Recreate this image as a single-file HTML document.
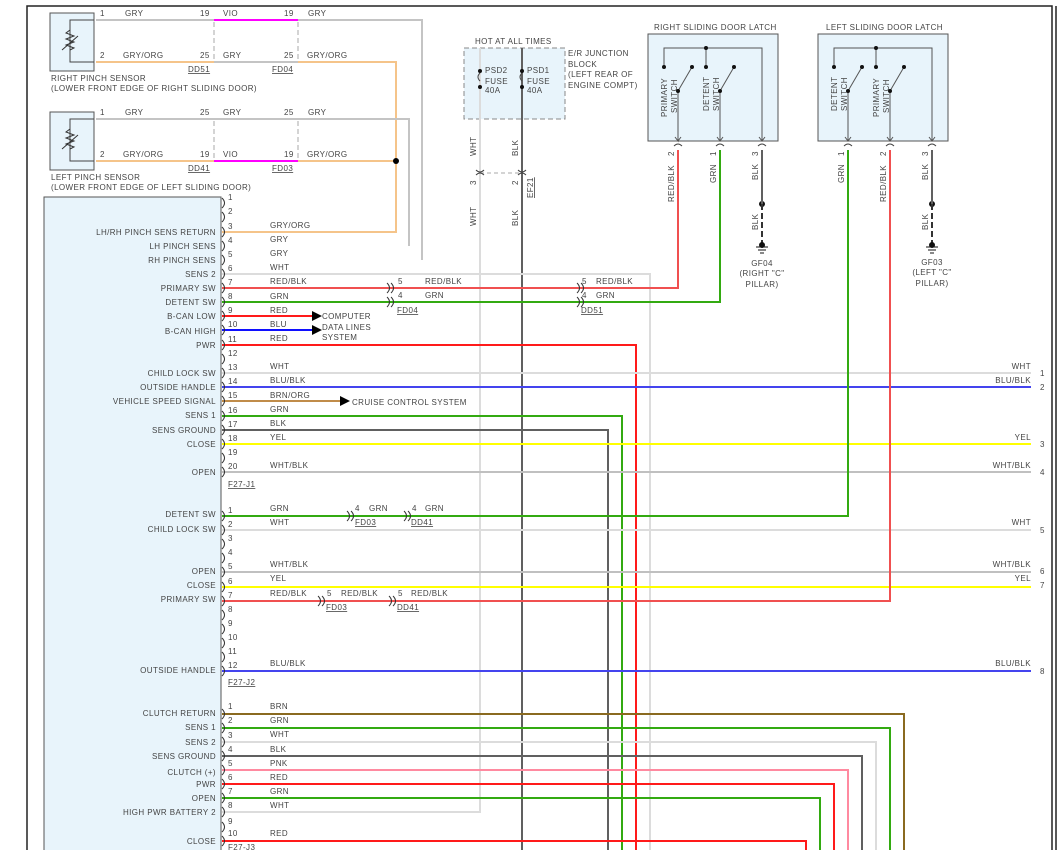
<!DOCTYPE html>
<html><head><meta charset="utf-8"><style>
body{margin:0;background:#fff}
svg{display:block;font-family:"Liberation Sans",sans-serif;font-size:8px;fill:#444;letter-spacing:.4px}
.w{fill:none;stroke-width:2}
</style></head><body>
<svg width="1058" height="850" viewBox="0 0 1058 850" xmlns="http://www.w3.org/2000/svg">
<defs><path id="c" d="M0 -5 Q5 0 0 5" fill="none" stroke="#333" stroke-width="1"/>
<path id="d" d="M-5 -5 Q0 0 -5 5 M-1 -5 Q4 0 -1 5" fill="none" stroke="#333" stroke-width="1"/></defs>
<!-- frame -->
<path d="M27 850 V6 H1052 V850 M1056 6 V850" fill="none" stroke="#222" stroke-width="1.5"/>
<!-- pinch sensors -->
<rect x="50" y="13" width="44" height="58" fill="#e8f4fb" stroke="#555"/>
<rect x="50" y="112" width="44" height="58" fill="#e8f4fb" stroke="#555"/>
<path d="M94 20 H70 V62 H94 M94 119 H70 V161 H94" fill="none" stroke="#444"/>
<path d="M70 30 l-4 3 8 3 -8 3 8 3 -8 3 8 3 -4 2 M62 50 l16 -14 M70 129 l-4 3 8 3 -8 3 8 3 -8 3 8 3 -4 2 M62 149 l16 -14" fill="none" stroke="#333"/>
<g class="w">
<path d="M96 20 H214 M298 20 H422 V260" stroke="#c4c4c4"/>
<path d="M214 20 H298 M214 161 H298" stroke="#ff00ff"/>
<path d="M96 62 H214 M298 62 H396 V232 H222" stroke="#f5c48a"/>
<path d="M214 62 H298 M96 119 H214 M214 119 H298 M298 119 H409 V246" stroke="#c4c4c4"/>
<path d="M96 161 H214 M298 161 H396" stroke="#f5c48a"/>
</g>
<path d="M214 22 V60 M298 22 V60 M214 121 V159 M298 121 V159" stroke="#aaa" stroke-dasharray="5 3"/>
<circle cx="396" cy="161" r="3" fill="#000"/>
<text x="100" y="16">1</text><text x="125" y="16">GRY</text><text x="200" y="16">19</text><text x="223" y="16">VIO</text><text x="284" y="16">19</text><text x="308" y="16">GRY</text>
<text x="100" y="58">2</text><text x="123" y="58">GRY/ORG</text><text x="200" y="58">25</text><text x="223" y="58">GRY</text><text x="284" y="58">25</text><text x="307" y="58">GRY/ORG</text>
<text x="188" y="72" text-decoration="underline">DD51</text><text x="272" y="72" text-decoration="underline">FD04</text>
<text x="51" y="81">RIGHT PINCH SENSOR</text><text x="51" y="91">(LOWER FRONT EDGE OF RIGHT SLIDING DOOR)</text>
<text x="100" y="115">1</text><text x="125" y="115">GRY</text><text x="200" y="115">25</text><text x="223" y="115">GRY</text><text x="284" y="115">25</text><text x="308" y="115">GRY</text>
<text x="100" y="157">2</text><text x="123" y="157">GRY/ORG</text><text x="200" y="157">19</text><text x="223" y="157">VIO</text><text x="284" y="157">19</text><text x="307" y="157">GRY/ORG</text>
<text x="188" y="171" text-decoration="underline">DD41</text><text x="272" y="171" text-decoration="underline">FD03</text>
<text x="51" y="180">LEFT PINCH SENSOR</text><text x="51" y="190">(LOWER FRONT EDGE OF LEFT SLIDING DOOR)</text>
<!-- fuse block -->
<rect x="464" y="48" width="101" height="71" fill="#e8f4fb" stroke="#888" stroke-dasharray="5 3"/>
<text x="475" y="44">HOT AT ALL TIMES</text>
<text x="568" y="56">E/R JUNCTION</text><text x="568" y="67">BLOCK</text><text x="568" y="77">(LEFT REAR OF</text><text x="568" y="88">ENGINE COMPT)</text>
<text x="485" y="73">PSD2</text><text x="485" y="84">FUSE</text><text x="485" y="93">40A</text>
<text x="527" y="73">PSD1</text><text x="527" y="84">FUSE</text><text x="527" y="93">40A</text>
<!-- big verticals -->
<g class="w">
<path d="M480 48 V812 H222" stroke="#dcdcdc"/>
<path d="M522 48 V850" stroke="#606060"/>
<path d="M650 850 V274 H222" stroke="#dcdcdc"/>
<path d="M636 850 V345 H222" stroke="#ff1a1a"/>
<path d="M622 850 V416 H222" stroke="#33aa11"/>
<path d="M608 850 V430 H222" stroke="#606060"/>
</g>
<path d="M480 73 q-4 4 0 8 M522 73 q-4 4 0 8" stroke="#444" fill="none"/>
<circle cx="480" cy="71" r="2" fill="#111"/><circle cx="480" cy="87" r="2" fill="#111"/>
<circle cx="522" cy="71" r="2" fill="#111"/><circle cx="522" cy="87" r="2" fill="#111"/>
<path d="M480 173 H522" stroke="#aaa" stroke-dasharray="4 3"/>
<path d="M476 170 q4 4 8 0 M476 175 q4 -4 8 0 M518 170 q4 4 8 0 M518 175 q4 -4 8 0" stroke="#444" fill="none"/>
<g transform="rotate(-90)">
<text x="-156" y="476">WHT</text><text x="-156" y="518">BLK</text>
<text x="-185" y="476">3</text><text x="-185" y="518">2</text>
<text x="-198" y="533" text-decoration="underline">EF21</text>
<text x="-226" y="476">WHT</text><text x="-226" y="518">BLK</text>
</g>
<!-- latches -->
<text x="654" y="30">RIGHT SLIDING DOOR LATCH</text>
<text x="826" y="30">LEFT SLIDING DOOR LATCH</text>
<rect x="648" y="34" width="130" height="107" fill="#e8f4fb" stroke="#555"/>
<rect x="818" y="34" width="130" height="107" fill="#e8f4fb" stroke="#555"/>
<g stroke="#555" fill="none">
<path d="M664 67 V48 H762 V141 M706 48 V67 M678 91 V141 L675 137 M678 141 L681 137 M720 91 V141 M717 137 L720 141 723 137 M759 137 L762 141 765 137 M678 91 L692 67 M720 91 L734 67"/>
<path d="M834 67 V48 H932 V141 M876 48 V67 M848 91 V141 M890 91 V141 M848 91 L862 67 M890 91 L904 67 M845 137 L848 141 851 137 M887 137 L890 141 893 137 M929 137 L932 141 935 137"/>
</g>
<g fill="#111"><circle cx="706" cy="48" r="2"/><circle cx="664" cy="67" r="2"/><circle cx="706" cy="67" r="2"/><circle cx="692" cy="67" r="2"/><circle cx="734" cy="67" r="2"/><circle cx="678" cy="91" r="2"/><circle cx="720" cy="91" r="2"/>
<circle cx="876" cy="48" r="2"/><circle cx="834" cy="67" r="2"/><circle cx="876" cy="67" r="2"/><circle cx="862" cy="67" r="2"/><circle cx="904" cy="67" r="2"/><circle cx="848" cy="91" r="2"/><circle cx="890" cy="91" r="2"/>
<circle cx="762" cy="204" r="3"/><circle cx="932" cy="204" r="3"/></g>
<path d="M674 146 q4 -4 8 0 M716 146 q4 -4 8 0 M758 146 q4 -4 8 0 M844 146 q4 -4 8 0 M886 146 q4 -4 8 0 M928 146 q4 -4 8 0" stroke="#444" fill="none"/>
<g transform="rotate(-90)">
<text x="-117" y="667">PRIMARY</text><text x="-113" y="677">SWITCH</text>
<text x="-111" y="709">DETENT</text><text x="-111" y="719">SWITCH</text>
<text x="-111" y="837">DETENT</text><text x="-111" y="847">SWITCH</text>
<text x="-117" y="879">PRIMARY</text><text x="-113" y="889">SWITCH</text>
<text x="-156" y="674">2</text><text x="-156" y="716">1</text><text x="-156" y="758">3</text>
<text x="-156" y="844">1</text><text x="-156" y="886">2</text><text x="-156" y="928">3</text>
<text x="-202" y="674">RED/BLK</text><text x="-183" y="716">GRN</text><text x="-180" y="758">BLK</text>
<text x="-183" y="844">GRN</text><text x="-202" y="886">RED/BLK</text><text x="-180" y="928">BLK</text>
<text x="-230" y="758">BLK</text><text x="-230" y="928">BLK</text>
</g>
<path d="M762 150 V204 M932 150 V204" stroke="#606060" stroke-width="2"/>
<path d="M762 204 V246 M932 204 V246" stroke="#333" stroke-width="2" stroke-dasharray="6 3"/>
<path d="M756 247 H768 M758 250 H766 M760 253 H764 M926 247 H938 M928 250 H936 M930 253 H934" stroke="#111"/>
<circle cx="762" cy="245" r="3" fill="#111"/><circle cx="932" cy="245" r="3" fill="#111"/>
<g text-anchor="middle"><text x="762" y="266">GF04</text><text x="762" y="276">(RIGHT "C"</text><text x="762" y="287">PILLAR)</text>
<text x="932" y="265">GF03</text><text x="932" y="275">(LEFT "C"</text><text x="932" y="286">PILLAR)</text></g>
<!-- module -->
<rect x="44" y="197" width="177" height="660" fill="#e8f4fb" stroke="#555"/>
<g class="w">
<path d="M222 288 H678 V150" stroke="#f05050"/>
<path d="M222 302 H720 V150" stroke="#33aa11"/>
<path d="M222 316 H312" stroke="#ff1a1a"/>
<path d="M222 330 H312" stroke="#1010ff"/>
<path d="M222 373 H1031" stroke="#dcdcdc"/>
<path d="M222 387 H1031" stroke="#4444ee"/>
<path d="M222 401 H340" stroke="#c08c4a"/>
<path d="M222 444 H1031" stroke="#ffff00"/>
<path d="M222 472 H1031" stroke="#c0c0c0"/>
<path d="M222 516 H848 V150" stroke="#33aa11"/>
<path d="M222 530 H1031" stroke="#dcdcdc"/>
<path d="M222 572 H1031" stroke="#c0c0c0"/>
<path d="M222 587 H1031" stroke="#ffff00"/>
<path d="M222 601 H890 V150" stroke="#f05050"/>
<path d="M222 671 H1031" stroke="#4444ee"/>
<path d="M222 714 H904 V850" stroke="#8a6a20"/>
<path d="M222 728 H890 V850" stroke="#33aa11"/>
<path d="M222 742 H876 V850" stroke="#dcdcdc"/>
<path d="M222 756 H862 V850" stroke="#606060"/>
<path d="M222 770 H848 V850" stroke="#ff8aa0"/>
<path d="M222 784 H834 V850" stroke="#ff1a1a"/>
<path d="M222 798 H820 V850" stroke="#33aa11"/>
<path d="M222 841 H806 V850" stroke="#ff1a1a"/>
</g>
<path d="M312 311 L322 316 312 321Z M312 325 L322 330 312 335Z M340 396 L350 401 340 406Z" fill="#000"/>
<text x="322" y="319">COMPUTER</text><text x="322" y="330">DATA LINES</text><text x="322" y="340">SYSTEM</text>
<text x="352" y="405">CRUISE CONTROL SYSTEM</text>
<!-- inline connectors -->
<use href="#d" x="392" y="288"/><use href="#d" x="392" y="302"/><use href="#d" x="582" y="288"/><use href="#d" x="582" y="302"/>
<use href="#d" x="352" y="516"/><use href="#d" x="409" y="516"/><use href="#d" x="323" y="601"/><use href="#d" x="394" y="601"/>
<text x="398" y="284">5</text><text x="425" y="284">RED/BLK</text><text x="398" y="298">4</text><text x="425" y="298">GRN</text><text x="397" y="313" text-decoration="underline">FD04</text>
<text x="582" y="284">5</text><text x="596" y="284">RED/BLK</text><text x="582" y="298">4</text><text x="596" y="298">GRN</text><text x="581" y="313" text-decoration="underline">DD51</text>
<text x="355" y="511">4</text><text x="369" y="511">GRN</text><text x="355" y="525" text-decoration="underline">FD03</text>
<text x="412" y="511">4</text><text x="425" y="511">GRN</text><text x="411" y="525" text-decoration="underline">DD41</text>
<text x="327" y="596">5</text><text x="341" y="596">RED/BLK</text><text x="326" y="610" text-decoration="underline">FD03</text>
<text x="398" y="596">5</text><text x="411" y="596">RED/BLK</text><text x="397" y="610" text-decoration="underline">DD41</text>
<!-- pin connectors -->
<g>
<use href="#c" x="222" y="203"/><use href="#c" x="222" y="217"/><use href="#c" x="222" y="232"/><use href="#c" x="222" y="246"/><use href="#c" x="222" y="260"/><use href="#c" x="222" y="274"/><use href="#c" x="222" y="288"/><use href="#c" x="222" y="302"/><use href="#c" x="222" y="316"/><use href="#c" x="222" y="330"/><use href="#c" x="222" y="345"/><use href="#c" x="222" y="359"/><use href="#c" x="222" y="373"/><use href="#c" x="222" y="387"/><use href="#c" x="222" y="401"/><use href="#c" x="222" y="416"/><use href="#c" x="222" y="430"/><use href="#c" x="222" y="444"/><use href="#c" x="222" y="458"/><use href="#c" x="222" y="472"/>
<use href="#c" x="222" y="516"/><use href="#c" x="222" y="530"/><use href="#c" x="222" y="544"/><use href="#c" x="222" y="558"/><use href="#c" x="222" y="572"/><use href="#c" x="222" y="587"/><use href="#c" x="222" y="601"/><use href="#c" x="222" y="615"/><use href="#c" x="222" y="629"/><use href="#c" x="222" y="643"/><use href="#c" x="222" y="657"/><use href="#c" x="222" y="671"/>
<use href="#c" x="222" y="714"/><use href="#c" x="222" y="728"/><use href="#c" x="222" y="742"/><use href="#c" x="222" y="756"/><use href="#c" x="222" y="770"/><use href="#c" x="222" y="784"/><use href="#c" x="222" y="798"/><use href="#c" x="222" y="812"/><use href="#c" x="222" y="827"/><use href="#c" x="222" y="841"/>
</g>
<g>
<text x="228" y="200">1</text><text x="228" y="214">2</text><text x="228" y="229">3</text><text x="228" y="243">4</text><text x="228" y="257">5</text><text x="228" y="271">6</text><text x="228" y="285">7</text><text x="228" y="299">8</text><text x="228" y="313">9</text><text x="228" y="327">10</text><text x="228" y="342">11</text><text x="228" y="356">12</text><text x="228" y="370">13</text><text x="228" y="384">14</text><text x="228" y="398">15</text><text x="228" y="413">16</text><text x="228" y="427">17</text><text x="228" y="441">18</text><text x="228" y="455">19</text><text x="228" y="469">20</text>
<text x="228" y="513">1</text><text x="228" y="527">2</text><text x="228" y="541">3</text><text x="228" y="555">4</text><text x="228" y="569">5</text><text x="228" y="584">6</text><text x="228" y="598">7</text><text x="228" y="612">8</text><text x="228" y="626">9</text><text x="228" y="640">10</text><text x="228" y="654">11</text><text x="228" y="668">12</text>
<text x="228" y="709">1</text><text x="228" y="723">2</text><text x="228" y="738">3</text><text x="228" y="752">4</text><text x="228" y="766">5</text><text x="228" y="780">6</text><text x="228" y="794">7</text><text x="228" y="808">8</text><text x="228" y="824">9</text><text x="228" y="836">10</text>
</g>
<g>
<text x="270" y="228">GRY/ORG</text><text x="270" y="242">GRY</text><text x="270" y="256">GRY</text><text x="270" y="270">WHT</text><text x="270" y="284">RED/BLK</text><text x="270" y="299">GRN</text><text x="270" y="313">RED</text><text x="270" y="327">BLU</text><text x="270" y="341">RED</text>
<text x="270" y="369">WHT</text><text x="270" y="383">BLU/BLK</text><text x="270" y="398">BRN/ORG</text><text x="270" y="412">GRN</text><text x="270" y="426">BLK</text><text x="270" y="440">YEL</text><text x="270" y="468">WHT/BLK</text>
<text x="270" y="511">GRN</text><text x="270" y="525">WHT</text><text x="270" y="567">WHT/BLK</text><text x="270" y="581">YEL</text><text x="270" y="596">RED/BLK</text><text x="270" y="666">BLU/BLK</text>
<text x="270" y="709">BRN</text><text x="270" y="723">GRN</text><text x="270" y="737">WHT</text><text x="270" y="752">BLK</text><text x="270" y="766">PNK</text><text x="270" y="780">RED</text><text x="270" y="794">GRN</text><text x="270" y="808">WHT</text><text x="270" y="836">RED</text>
</g>
<g text-decoration="underline"><text x="228" y="487">F27-J1</text><text x="228" y="685">F27-J2</text><text x="228" y="850">F27-J3</text></g>
<g text-anchor="end">
<text x="1031" y="369">WHT</text><text x="1031" y="383">BLU/BLK</text><text x="1031" y="440">YEL</text><text x="1031" y="468">WHT/BLK</text><text x="1031" y="525">WHT</text><text x="1031" y="567">WHT/BLK</text><text x="1031" y="581">YEL</text><text x="1031" y="666">BLU/BLK</text>
<text x="216" y="235">LH/RH PINCH SENS RETURN</text><text x="216" y="249">LH PINCH SENS</text><text x="216" y="263">RH PINCH SENS</text><text x="216" y="277">SENS 2</text><text x="216" y="291">PRIMARY SW</text><text x="216" y="305">DETENT SW</text><text x="216" y="319">B-CAN LOW</text><text x="216" y="334">B-CAN HIGH</text><text x="216" y="348">PWR</text>
<text x="216" y="376">CHILD LOCK SW</text><text x="216" y="390">OUTSIDE HANDLE</text><text x="216" y="404">VEHICLE SPEED SIGNAL</text><text x="216" y="418">SENS 1</text><text x="216" y="433">SENS GROUND</text><text x="216" y="447">CLOSE</text><text x="216" y="475">OPEN</text>
<text x="216" y="517">DETENT SW</text><text x="216" y="532">CHILD LOCK SW</text><text x="216" y="574">OPEN</text><text x="216" y="588">CLOSE</text><text x="216" y="602">PRIMARY SW</text><text x="216" y="673">OUTSIDE HANDLE</text>
<text x="216" y="716">CLUTCH RETURN</text><text x="216" y="730">SENS 1</text><text x="216" y="745">SENS 2</text><text x="216" y="759">SENS GROUND</text><text x="216" y="775">CLUTCH (+)</text><text x="216" y="787">PWR</text><text x="216" y="801">OPEN</text><text x="216" y="815">HIGH PWR BATTERY 2</text><text x="216" y="844">CLOSE</text>
</g>
<g><text x="1040" y="376">1</text><text x="1040" y="390">2</text><text x="1040" y="447">3</text><text x="1040" y="475">4</text><text x="1040" y="533">5</text><text x="1040" y="574">6</text><text x="1040" y="588">7</text><text x="1040" y="674">8</text></g>
</svg>
</body></html>
